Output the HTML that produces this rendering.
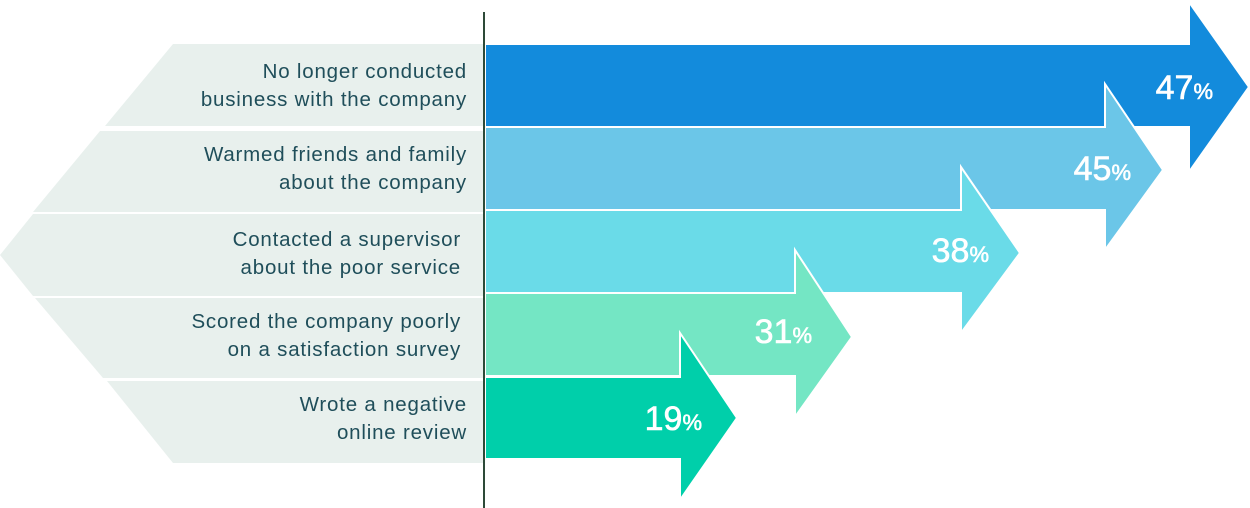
<!DOCTYPE html>
<html><head><meta charset="utf-8"><style>
html,body{margin:0;padding:0;background:#fff;width:1250px;height:508px;overflow:hidden}
</style></head><body>
<svg width="1250" height="508" viewBox="0 0 1250 508" xmlns="http://www.w3.org/2000/svg">
<g fill="#e8f0ed">
<polygon points="173,44 484,44 484,126 105,126"/>
<polygon points="100,131 484,131 484,212 33,212"/>
<polygon points="33,214 484,214 484,296 33,296 0,255"/>
<polygon points="35,298 484,298 484,378 103,378"/>
<polygon points="107,381 484,381 484,463 173,463"/>
</g>
<g font-family="Liberation Sans, sans-serif" font-size="20.5" fill="#1f4e5a" text-anchor="end" letter-spacing="0.8">
<text x="467" y="78">No longer conducted</text>
<text x="467" y="106">business with the company</text>
<text x="467" y="161">Warmed friends and family</text>
<text x="467" y="189">about the company</text>
<text x="461" y="246">Contacted a supervisor</text>
<text x="461" y="274">about the poor service</text>
<text x="461" y="328">Scored the company poorly</text>
<text x="461" y="356">on a satisfaction survey</text>
<text x="467" y="411">Wrote a negative</text>
<text x="467" y="439">online review</text>
</g>
<g stroke="#fff" stroke-width="2" stroke-linejoin="miter">
<polygon fill="#138bdc" points="485,44 1189,44 1189,2 1249,87 1189,172 1189,127 485,127"/>
<polygon fill="#6bc6e8" points="485,127 1105,127 1105,84 1163,170 1105,250 1105,210 485,210"/>
<polygon fill="#6adbe8" points="485,210 961,210 961,167 1020,253 961,333 961,293 485,293"/>
<polygon fill="#74e6c4" points="485,293 795,293 795,250 852,337 795,417 795,376 485,376"/>
<polygon fill="#00cfaa" points="485,377 680,377 680,333 737,418 680,500 680,459 485,459"/>
</g>
<line x1="484" y1="12" x2="484" y2="508" stroke="#2d4a38" stroke-width="2"/>
<g font-family="Liberation Sans, sans-serif" fill="#fff" text-anchor="end" stroke="#fff" stroke-width="0.6">
<text x="1213" y="99" font-size="34">47<tspan font-size="22">%</tspan></text>
<text x="1131" y="180" font-size="34">45<tspan font-size="22">%</tspan></text>
<text x="989" y="262" font-size="34">38<tspan font-size="22">%</tspan></text>
<text x="812" y="343" font-size="34">31<tspan font-size="22">%</tspan></text>
<text x="702" y="430" font-size="34">19<tspan font-size="22">%</tspan></text>
</g>
</svg>
</body></html>
